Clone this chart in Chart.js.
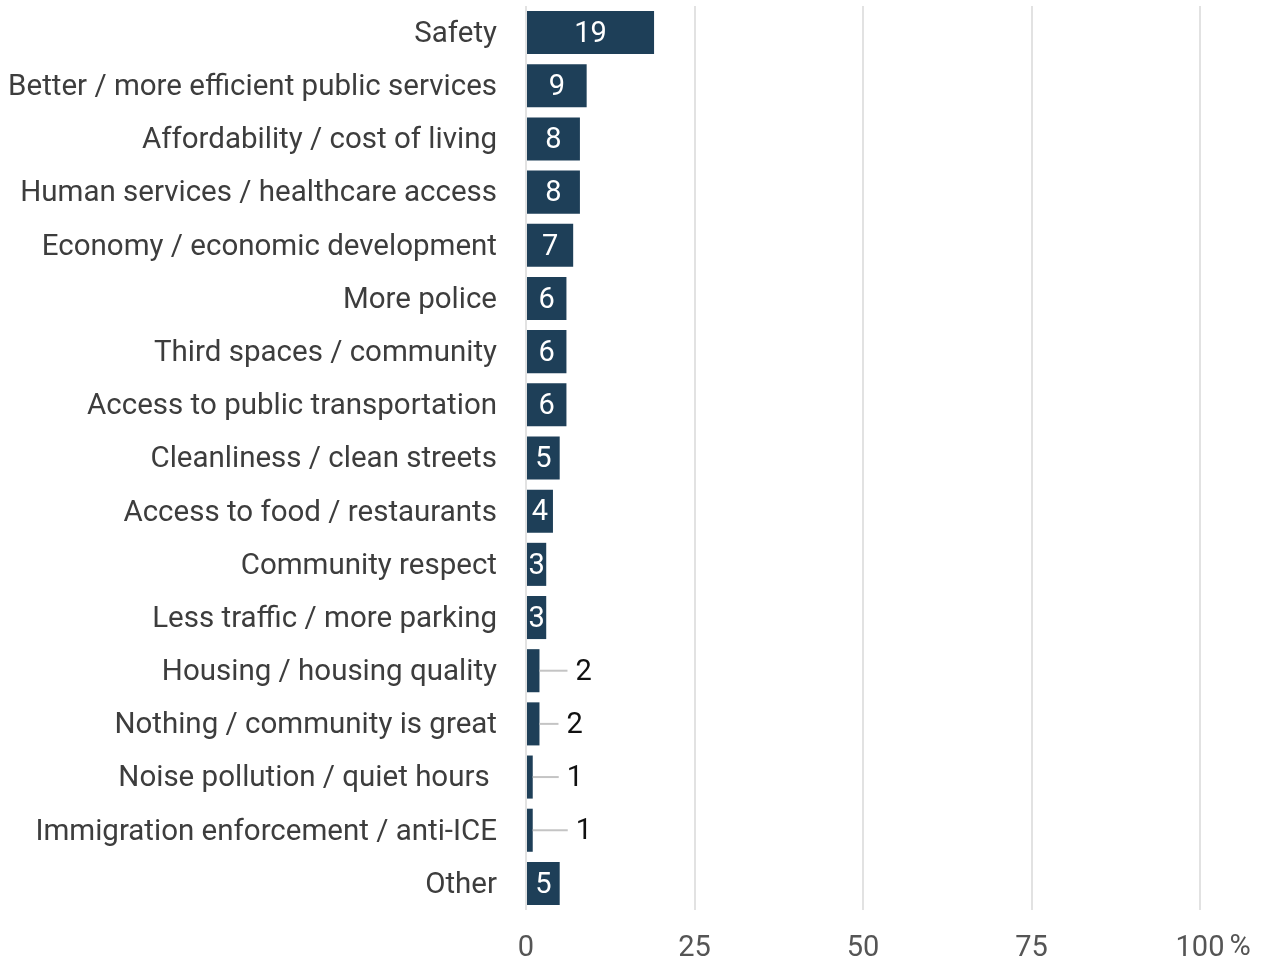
<!DOCTYPE html>
<html>
<head>
<meta charset="utf-8">
<script src="https://cdn.jsdelivr.net/npm/chart.js@4"></script>
<style>
  html, body { margin: 0; padding: 0; background: #fff; }
  #wrap { width: 1262px; height: 962px; }
</style>
</head>
<body>
<div id="wrap"><canvas id="priorities"></canvas></div>
<script>
// Categories and counts
const categories = [
    'Safety',
    'Better / more efficient public services',
    'Affordability / cost of living',
    'Human services / healthcare access',
    'Economy / economic development',
    'More police',
    'Third spaces / community',
    'Access to public transportation',
    'Cleanliness / clean streets',
    'Access to food / restaurants',
    'Community respect',
    'Less traffic / more parking',
    'Housing / housing quality',
    'Nothing / community is great',
    'Noise pollution / quiet hours ',
    'Immigration enforcement / anti-ICE',
    'Other'
];
const counts = [19, 9, 8, 8, 7, 6, 6, 6, 5, 4, 3, 3, 2, 2, 1, 1, 5];
const xTicks = [0, 25, 50, 75, 100];

const barColor = '#1e3f58';
const fontFamily = 'Roboto, "Noto Sans", sans-serif';
const X_TICK_PAD = 21;

// Value labels: inside the bar when it fits, otherwise outside with a short leader line
const valueLabels = {
    id: 'valueLabels',
    afterDatasetsDraw(chart) {
        const ctx = chart.ctx;
        const meta = chart.getDatasetMeta(0);
        const leaders = [28, 19, 26, 35];
        let k = 0;
        ctx.save();
        ctx.font = '29px ' + fontFamily;
        ctx.textBaseline = 'middle';
        meta.data.forEach((bar, i) => {
            const v = counts[i];
            const text = String(v);
            const w = bar.x - bar.base;
            if (v >= 3) {
                ctx.fillStyle = '#ffffff';
                ctx.textAlign = 'center';
                ctx.fillText(text, bar.base + w / 2, bar.y + 2);
            } else {
                const len = leaders[k++ % leaders.length];
                ctx.strokeStyle = '#c4c4c4';
                ctx.lineWidth = 2;
                ctx.beginPath();
                ctx.moveTo(bar.x, bar.y);
                ctx.lineTo(bar.x + len, bar.y);
                ctx.stroke();
                ctx.fillStyle = '#111111';
                ctx.textAlign = 'left';
                ctx.fillText(text, bar.x + len + 8, bar.y + 2);
            }
        });
        ctx.restore();
    }
};

// Percent sign after the last x tick
const percentSign = {
    id: 'percentSign',
    afterDraw(chart) {
        const x = chart.scales.x;
        const ctx = chart.ctx;
        ctx.save();
        ctx.font = '29px ' + fontFamily;
        const w = ctx.measureText(String(xTicks[xTicks.length - 1])).width;
        ctx.fillStyle = '#555555';
        ctx.textAlign = 'left';
        ctx.textBaseline = 'middle';
        ctx.fillText('%', x.getPixelForValue(100) + w / 2 + 5, x.top + X_TICK_PAD + 17);
        ctx.restore();
    }
};

new Chart(document.getElementById('priorities'), {
    type: 'bar',
    data: {
        labels: categories,
        datasets: [{
            data: counts,
            backgroundColor: barColor,
            borderWidth: 0,
            categoryPercentage: 0.81,
            barPercentage: 1
        }]
    },
    options: {
        indexAxis: 'y',
        responsive: true,
        maintainAspectRatio: false,
        animation: false,
        layout: { padding: { top: 6, right: 62, bottom: -3, left: 0 } },
        plugins: {
            legend: { display: false },
            tooltip: { enabled: false }
        },
        scales: {
            x: {
                min: 0,
                max: 100,
                afterBuildTicks(scale) {
                    scale.ticks = xTicks.map(v => ({ value: v }));
                },
                afterFit(scale) {
                    scale.height = 55;
                    scale.paddingLeft = 0;
                    scale.paddingRight = 0;
                },
                grid: { color: '#e2e2e2', lineWidth: 2, drawTicks: false },
                border: { display: false },
                ticks: {
                    padding: X_TICK_PAD,
                    color: '#555555',
                    font: { family: fontFamily, size: 29 },
                    maxRotation: 0
                }
            },
            y: {
                afterFit(scale) {
                    scale.width = 526;
                    scale.paddingTop = 0;
                    scale.paddingBottom = 0;
                },
                grid: { display: false },
                border: { display: false },
                ticks: {
                    padding: 21,
                    labelOffset: 2,
                    color: '#3d3d3d',
                    font: { family: fontFamily, size: 29.5 },
                    autoSkip: false
                }
            }
        }
    },
    plugins: [valueLabels, percentSign]
});
</script>
</body>
</html>
